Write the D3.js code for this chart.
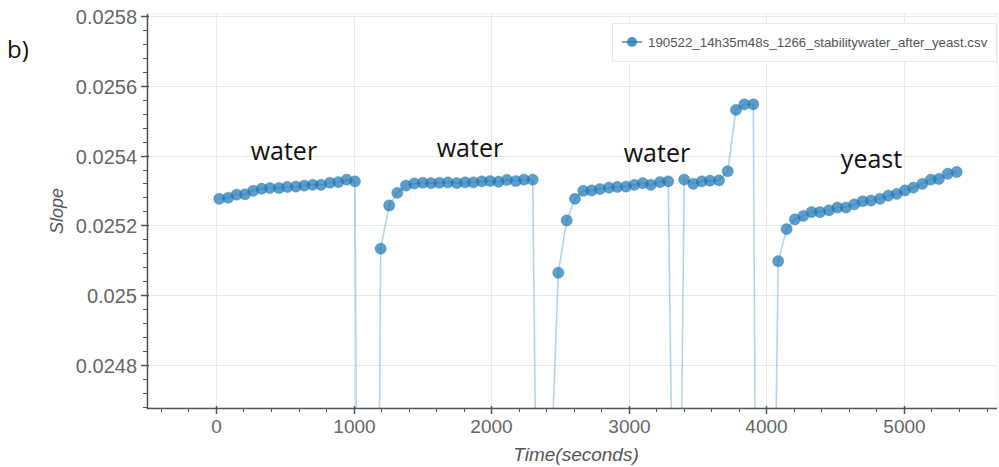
<!DOCTYPE html>
<html>
<head>
<meta charset="utf-8">
<script src="https://cdn.jsdelivr.net/npm/d3@7"></script>
<style>
  html, body { margin: 0; padding: 0; background: #fff; }
  svg { display: block; }
</style>
</head>
<body>
<svg id="chart" width="999" height="467"></svg>
<script>
// ---------------- data ----------------
const seriesName = "190522_14h35m48s_1266_stabilitywater_after_yeast.csv";

// time (seconds) of each sample, including the off-scale samples between runs
const times = [
  24, 89, 150, 211, 271, 332, 392, 458, 518, 581, 642, 703, 763, 828, 889, 950, 1010,
  1100,
  1197, 1259, 1318, 1381, 1442, 1503, 1563, 1624, 1685, 1750, 1810, 1871, 1932, 1992, 2053, 2114, 2179, 2238, 2302,
  2350,
  2488, 2549, 2609, 2670, 2730, 2791, 2856, 2917, 2980, 3040, 3101, 3161, 3227, 3287,
  3350,
  3403, 3469, 3530, 3590, 3656, 3719, 3779, 3840, 3905,
  3962,
  4086, 4147, 4207, 4268, 4329, 4390, 4455, 4516, 4578, 4639, 4700, 4760, 4826, 4886, 4947, 5007, 5068, 5134, 5195, 5254, 5318, 5383
];
// slope value of each sample
const slopes = [
  0.025276, 0.025279, 0.025288, 0.025289, 0.025299, 0.025305, 0.025307, 0.025307, 0.025310, 0.025311, 0.025314, 0.025316, 0.025316, 0.025322, 0.025324, 0.025331, 0.025326,
  0.0195,
  0.025133, 0.025257, 0.025293, 0.025314, 0.025320, 0.025322, 0.025321, 0.025322, 0.025323, 0.025321, 0.025323, 0.025323, 0.025326, 0.025327, 0.025325, 0.025330, 0.025327, 0.025331, 0.025331,
  0.0236,
  0.025064, 0.025214, 0.025276, 0.025299, 0.025300, 0.025304, 0.025308, 0.025310, 0.025311, 0.025316, 0.025321, 0.025316, 0.025324, 0.025326,
  0.0234,
  0.025331, 0.025319, 0.025326, 0.025328, 0.025329, 0.025355, 0.025531, 0.025547, 0.025547,
  0.0215,
  0.025097, 0.025189, 0.025217, 0.025227, 0.025238, 0.025238, 0.025243, 0.025251, 0.025251, 0.025260, 0.025269, 0.025271, 0.025276, 0.025285, 0.025290, 0.025300, 0.025308, 0.025319, 0.025331, 0.025333, 0.025348, 0.025353
];

// annotations
const noteTexts = ["water", "water", "water", "yeast"];
const noteTimes = [494, 1846, 3205, 4764];
const noteSlopes = [0.025388, 0.025396, 0.025382, 0.025365];

// axes
const xDomain = [-501, 5676];
const yDomain = [0.024676, 0.025806];
const xMajorTicks = [0, 1000, 2000, 3000, 4000, 5000];
const xTickLabels = ["0", "1000", "2000", "3000", "4000", "5000"];
const yMajorTicks = [0.0248, 0.025, 0.0252, 0.0254, 0.0256, 0.0258];
const yTickLabels = ["0.0248", "0.025", "0.0252", "0.0254", "0.0256", "0.0258"];
const xMinorStep = 200;
const yMinorStep = 0.00004;
const xLabel = "Time(seconds)";
const yLabel = "Slope";
const panelLabel = "b)";

// ---------------- drawing ----------------
const svg = d3.select("#chart");
const W = 999, H = 467;
const plot = { left: 147, right: 997, top: 14, bottom: 408 };

const x = d3.scaleLinear().domain(xDomain).range([plot.left, plot.right]);
const y = d3.scaleLinear().domain(yDomain).range([plot.bottom, plot.top]);

svg.append("rect").attr("width", W).attr("height", H).attr("fill", "#fff");

// outline
svg.append("rect")
  .attr("x", plot.left).attr("y", plot.top)
  .attr("width", plot.right - plot.left).attr("height", plot.bottom - plot.top)
  .attr("fill", "none").attr("stroke", "#ececec").attr("stroke-width", 1);

// grid
const grid = svg.append("g").attr("stroke", "#e9e9e9").attr("stroke-width", 1);
xMajorTicks.forEach(t => {
  const px = Math.round(x(t)) + 0.5;
  grid.append("line").attr("x1", px).attr("x2", px).attr("y1", plot.top).attr("y2", plot.bottom);
});
yMajorTicks.forEach(t => {
  const py = Math.round(y(t)) + 0.5;
  grid.append("line").attr("x1", plot.left).attr("x2", plot.right).attr("y1", py).attr("y2", py);
});

// clip
svg.append("clipPath").attr("id", "clip").append("rect")
  .attr("x", plot.left).attr("y", plot.top)
  .attr("width", plot.right - plot.left).attr("height", plot.bottom - plot.top);

const data = times.map((t, i) => ({ t, v: slopes[i] }));
const g = svg.append("g").attr("clip-path", "url(#clip)");

const line = d3.line().x(d => x(d.t)).y(d => y(d.v));
g.append("path").datum(data)
  .attr("d", line)
  .attr("fill", "none")
  .attr("stroke", "#1f77b4")
  .attr("stroke-opacity", 0.32)
  .attr("stroke-width", 1.6);

g.selectAll("circle.pt").data(data.filter(d => d.v >= yDomain[0] && d.v <= yDomain[1]))
  .enter().append("circle")
  .attr("class", "pt")
  .attr("cx", d => x(d.t)).attr("cy", d => y(d.v))
  .attr("r", 5.6)
  .attr("fill", "#1f77b4").attr("fill-opacity", 0.72)
  .attr("stroke", "#1f77b4").attr("stroke-opacity", 0.35).attr("stroke-width", 1);

// axes
const axisColor = "#555";
const labelColor = "#666";
const ax = svg.append("g");
// y axis
ax.append("line").attr("x1", plot.left + 0.5).attr("x2", plot.left + 0.5)
  .attr("y1", plot.top).attr("y2", plot.bottom + 1)
  .attr("stroke", axisColor).attr("stroke-width", 1.5);
// x axis
ax.append("line").attr("x1", plot.left).attr("x2", plot.right)
  .attr("y1", plot.bottom + 0.5).attr("y2", plot.bottom + 0.5)
  .attr("stroke", axisColor).attr("stroke-width", 1.5);

// y minor ticks
const yMinor = d3.range(Math.ceil(yDomain[0] / yMinorStep), Math.floor(yDomain[1] / yMinorStep) + 1)
  .map(k => k * yMinorStep);
yMinor.forEach(v => {
  const py = Math.round(y(v)) + 0.5;
  ax.append("line").attr("x1", plot.left - 4).attr("x2", plot.left)
    .attr("y1", py).attr("y2", py).attr("stroke", axisColor).attr("stroke-width", 1);
});
yMajorTicks.forEach((v, i) => {
  const py = Math.round(y(v)) + 0.5;
  ax.append("line").attr("x1", plot.left - 6).attr("x2", plot.left + 2)
    .attr("y1", py).attr("y2", py).attr("stroke", axisColor).attr("stroke-width", 1.5);
  ax.append("text").attr("x", plot.left - 10).attr("y", py)
    .attr("text-anchor", "end").attr("dominant-baseline", "central")
    .attr("font-family", "Liberation Sans, Arial, sans-serif").attr("font-size", 20)
    .attr("fill", labelColor).text(yTickLabels[i]);
});

// x minor ticks
const xMinor = d3.range(Math.ceil(xDomain[0] / xMinorStep), Math.floor(xDomain[1] / xMinorStep) + 1)
  .map(k => k * xMinorStep);
xMinor.forEach(t => {
  const px = Math.round(x(t)) + 0.5;
  ax.append("line").attr("x1", px).attr("x2", px)
    .attr("y1", plot.bottom).attr("y2", plot.bottom + 4).attr("stroke", axisColor).attr("stroke-width", 1);
});
xMajorTicks.forEach((t, i) => {
  const px = Math.round(x(t)) + 0.5;
  ax.append("line").attr("x1", px).attr("x2", px)
    .attr("y1", plot.bottom - 2).attr("y2", plot.bottom + 6).attr("stroke", axisColor).attr("stroke-width", 1.5);
  ax.append("text").attr("x", px).attr("y", plot.bottom + 25)
    .attr("text-anchor", "middle")
    .attr("font-family", "Liberation Sans, Arial, sans-serif").attr("font-size", 19)
    .attr("fill", labelColor).text(xTickLabels[i]);
});

// axis labels
svg.append("text")
  .attr("x", (plot.left + plot.right) / 2 + 4).attr("y", 461)
  .attr("text-anchor", "middle")
  .attr("font-family", "Liberation Sans, Arial, sans-serif").attr("font-style", "italic")
  .attr("font-size", 19).attr("fill", "#555").text(xLabel);
svg.append("text")
  .attr("transform", `translate(63, ${(plot.top + plot.bottom) / 2})rotate(-90)`)
  .attr("text-anchor", "middle")
  .attr("font-family", "Liberation Sans, Arial, sans-serif").attr("font-style", "italic")
  .attr("font-size", 18).attr("fill", "#555").text(yLabel);

// annotations
noteTexts.forEach((s, i) => {
  svg.append("text")
    .attr("x", x(noteTimes[i])).attr("y", y(noteSlopes[i]))
    .attr("text-anchor", "middle")
    .attr("font-family", "Open Sans, sans-serif").attr("font-size", 25)
    .attr("fill", "#111").text(s);
});

// panel label
svg.append("text").attr("x", 7).attr("y", 58)
  .attr("font-family", "Open Sans, sans-serif").attr("font-size", 24)
  .attr("fill", "#111").text(panelLabel);

// legend
const lg = svg.append("g");
lg.append("rect").attr("x", 612.5).attr("y", 23.5).attr("width", 384).attr("height", 38)
  .attr("fill", "#fff").attr("stroke", "#e8e8e8").attr("stroke-width", 1);
lg.append("line").attr("x1", 622).attr("x2", 642).attr("y1", 42).attr("y2", 42)
  .attr("stroke", "#1f77b4").attr("stroke-opacity", 0.8).attr("stroke-width", 1.6);
lg.append("circle").attr("cx", 632).attr("cy", 42).attr("r", 5)
  .attr("fill", "#1f77b4").attr("fill-opacity", 0.8);
lg.append("text").attr("x", 648).attr("y", 47)
  .attr("font-family", "Liberation Sans, Arial, sans-serif").attr("font-size", 13.3)
  .attr("fill", "#555").text(seriesName);
</script>
</body>
</html>
